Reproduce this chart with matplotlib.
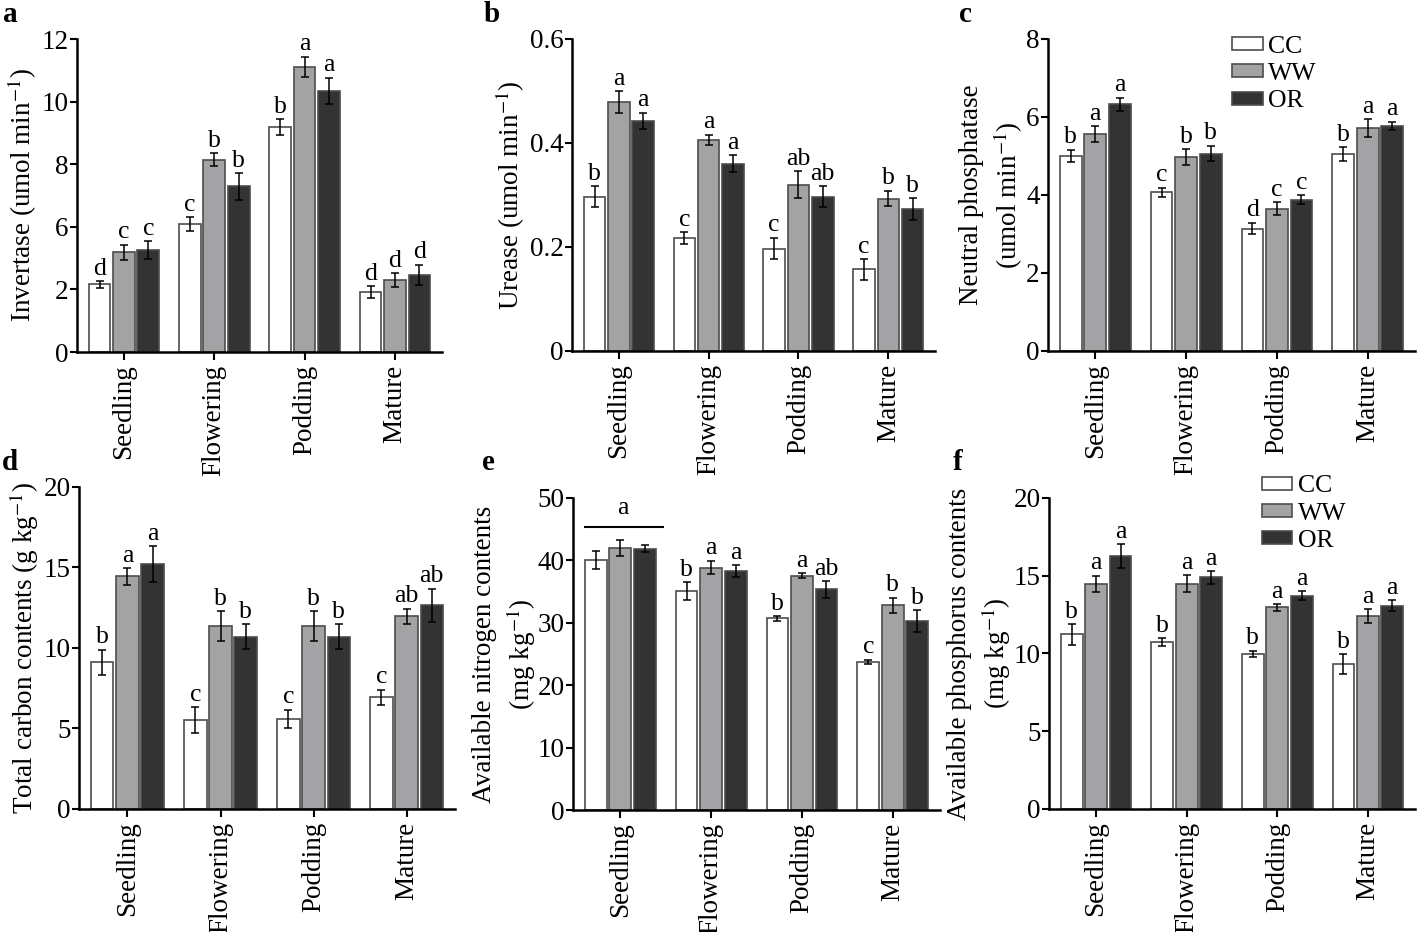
import numpy as np
import matplotlib.pyplot as plt

plt.rcParams['font.family'] = ['Liberation Serif', 'DejaVu Serif']
plt.rcParams['mathtext.fontset'] = 'stix'

stages = ['Seedling', 'Flowering', 'Podding', 'Mature']
groups = ['CC', 'WW', 'OR']
colors = ['white', '#a3a3a6', '#333333']

# a: invertase, read against the tick marks as drawn (the printed labels skip "4")
inv_cc = [2.16, 4.09, 7.18, 1.92]
inv_ww = [3.18, 6.15, 9.11, 2.29]
inv_or = [3.26, 5.29, 8.35, 2.46]
inv_cc_se = [0.11, 0.21, 0.26, 0.18]
inv_ww_se = [0.25, 0.21, 0.33, 0.22]
inv_or_se = [0.28, 0.42, 0.42, 0.33]
inv_ticklabels = ['0', '2', '6', '8', '10', '12']
inv_letters = [['d', 'c', 'b', 'd'], ['c', 'b', 'a', 'd'], ['c', 'b', 'a', 'd']]

# b: urease
ure_cc = [0.297, 0.217, 0.197, 0.157]
ure_ww = [0.478, 0.406, 0.320, 0.293]
ure_or = [0.442, 0.360, 0.297, 0.273]
ure_cc_se = [0.020, 0.011, 0.021, 0.020]
ure_ww_se = [0.021, 0.010, 0.026, 0.015]
ure_or_se = [0.016, 0.016, 0.020, 0.021]
ure_letters = [['b', 'c', 'c', 'c'], ['a', 'a', 'ab', 'b'], ['a', 'a', 'ab', 'b']]

# c: neutral phosphatase
pho_cc = [5.00, 4.07, 3.14, 5.05]
pho_ww = [5.57, 4.97, 3.65, 5.71]
pho_or = [6.32, 5.06, 3.88, 5.77]
pho_cc_se = [0.16, 0.12, 0.15, 0.17]
pho_ww_se = [0.20, 0.21, 0.17, 0.23]
pho_or_se = [0.17, 0.20, 0.12, 0.11]
pho_letters = [['b', 'c', 'd', 'b'], ['a', 'b', 'c', 'a'], ['a', 'b', 'c', 'a']]

# d: total carbon
tc_cc = [9.12, 5.51, 5.60, 6.94]
tc_ww = [14.45, 11.36, 11.36, 11.98]
tc_or = [15.21, 10.69, 10.69, 12.64]
tc_cc_se = [0.77, 0.80, 0.56, 0.47]
tc_ww_se = [0.51, 0.92, 0.92, 0.46]
tc_or_se = [1.13, 0.78, 0.78, 1.03]
tc_letters = [['b', 'c', 'c', 'c'], ['a', 'b', 'b', 'ab'], ['a', 'b', 'b', 'ab']]

# e: available nitrogen
an_cc = [40.0, 35.1, 30.7, 23.75]
an_ww = [42.05, 38.85, 37.57, 32.8]
an_or = [41.84, 38.31, 35.38, 30.3]
an_cc_se = [1.44, 1.41, 0.40, 0.32]
an_ww_se = [1.28, 1.07, 0.40, 1.20]
an_or_se = [0.56, 0.96, 1.33, 1.76]
an_letters = [['', 'b', 'b', 'c'], ['', 'a', 'a', 'b'], ['', 'a', 'ab', 'b']]
an_seedling_line = 45.3

# f: available phosphorus
ap_cc = [11.23, 10.74, 9.97, 9.30]
ap_ww = [14.46, 14.48, 12.96, 12.41]
ap_or = [16.28, 14.89, 13.71, 13.07]
ap_cc_se = [0.66, 0.25, 0.20, 0.65]
ap_ww_se = [0.53, 0.55, 0.22, 0.42]
ap_or_se = [0.76, 0.42, 0.28, 0.37]
ap_letters = [['b', 'b', 'b', 'b'], ['a', 'a', 'a', 'a'], ['a', 'a', 'a', 'a']]

FS = 19.5
x = np.arange(len(stages))
width = 0.24
offsets = [-0.27, 0, 0.27]


def panel(ax, means, errs, letters, ymax, yticks, ylabel, labelx):
    for i in range(3):
        pos = x + offsets[i]
        ax.bar(pos, means[i], width, color=colors[i], edgecolor='#4d4d4d',
               linewidth=1.2, label=groups[i], zorder=2)
        ax.errorbar(pos, means[i], yerr=errs[i], fmt='none', ecolor='black',
                    elinewidth=1.1, capsize=3, capthick=1.1, zorder=3)
        for xp, m, e, t in zip(pos, means[i], errs[i], letters[i]):
            if t:
                ax.annotate(t, (xp, m + e), xytext=(0, 1), textcoords='offset points',
                            ha='center', va='bottom', fontsize=18.5)
    ax.set_xlim(-0.52, 3.52)
    ax.set_ylim(0, ymax)
    ax.set_yticks(yticks)
    ax.set_xticks(x)
    ax.set_xticklabels(stages, rotation=90, fontsize=FS)
    ax.tick_params(axis='y', labelsize=FS, length=5, width=1.5, pad=1)
    ax.tick_params(axis='x', length=6, width=1.5, pad=3)
    for s in ['top', 'right']:
        ax.spines[s].set_visible(False)
    for s in ['left', 'bottom']:
        ax.spines[s].set_linewidth(1.8)
    ax.set_ylabel(ylabel, fontsize=FS, linespacing=1.3, va='center')
    ax.yaxis.set_label_coords(labelx, 0.5)


fig = plt.figure(figsize=(14.17, 9.32), dpi=100)
ax_a = fig.add_axes([0.0543, 0.6223, 0.2576, 0.3358])
ax_b = fig.add_axes([0.4037, 0.6234, 0.2562, 0.3348])
ax_c = fig.add_axes([0.7396, 0.6234, 0.2590, 0.3348])
ax_d = fig.add_axes([0.0558, 0.1320, 0.2653, 0.3455])
ax_e = fig.add_axes([0.4044, 0.1309, 0.2590, 0.3348])
ax_f = fig.add_axes([0.7403, 0.1320, 0.2583, 0.3337])

panel(ax_a, [inv_cc, inv_ww, inv_or], [inv_cc_se, inv_ww_se, inv_or_se], inv_letters,
      10, [0, 2, 4, 6, 8, 10], 'Invertase (umol min$^{-1}$)', -0.15)
ax_a.set_yticklabels(inv_ticklabels)

panel(ax_b, [ure_cc, ure_ww, ure_or], [ure_cc_se, ure_ww_se, ure_or_se], ure_letters,
      0.6, [0, 0.2, 0.4, 0.6], 'Urease (umol min$^{-1}$)', -0.171)
ax_b.set_yticklabels(['0', '0.2', '0.4', '0.6'])

panel(ax_c, [pho_cc, pho_ww, pho_or], [pho_cc_se, pho_ww_se, pho_or_se], pho_letters,
      8, [0, 2, 4, 6, 8], 'Neutral phosphatase\n(umol min$^{-1}$)', -0.153)

panel(ax_d, [tc_cc, tc_ww, tc_or], [tc_cc_se, tc_ww_se, tc_or_se], tc_letters,
      20, [0, 5, 10, 15, 20], 'Total carbon contents (g kg$^{-1}$)', -0.146)

panel(ax_e, [an_cc, an_ww, an_or], [an_cc_se, an_ww_se, an_or_se], an_letters,
      50, [0, 10, 20, 30, 40, 50], 'Available nitrogen contents\n(mg kg$^{-1}$)', -0.185)
ax_e.plot([-0.39, 0.47], [an_seedling_line, an_seedling_line], color='black', lw=1.5,
          clip_on=False)
ax_e.annotate('a', (0.03, an_seedling_line), xytext=(0, 6), textcoords='offset points',
              ha='center', va='bottom', fontsize=18.5)

panel(ax_f, [ap_cc, ap_ww, ap_or], [ap_cc_se, ap_ww_se, ap_or_se], ap_letters,
      20, [0, 5, 10, 15, 20], 'Available phosphorus contents\n(mg kg$^{-1}$)', -0.189)

for ax, bx, by in [(ax_c, 0.501, 1.011), (ax_f, 0.581, 1.073)]:
    ax.legend(loc='upper left', bbox_to_anchor=(bx, by), frameon=False, fontsize=18.5,
              handlelength=1.2, handleheight=0.4, handletextpad=0.2, labelspacing=0.21,
              borderpad=0, borderaxespad=0)

for t, px, py in [('a', 10, 15), ('b', 492, 15), ('c', 965, 15),
                  ('d', 10, 463), ('e', 488, 463), ('f', 958, 463)]:
    fig.text(px / 1417, 1 - py / 932, t, fontsize=21, fontweight='bold',
             ha='center', va='center')

fig.savefig('out.png', dpi=100)
